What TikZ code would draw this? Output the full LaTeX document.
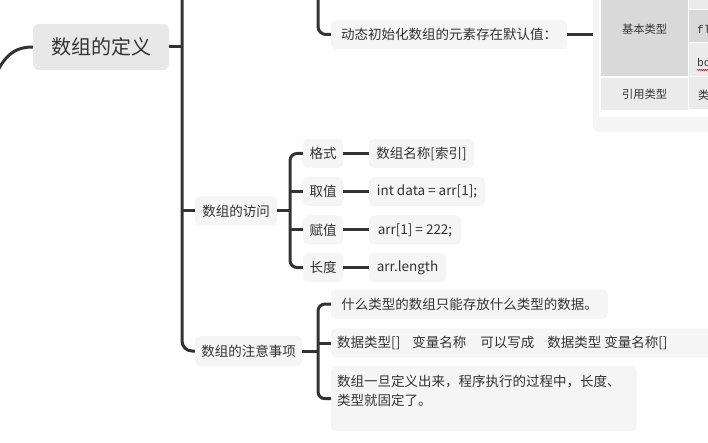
\documentclass[tikz,border=0pt]{standalone}
\usepackage{fontspec}
\setmainfont{Noto Sans CJK SC}
\newfontfamily\monof{Liberation Mono}
\usetikzlibrary{decorations.pathmorphing}
\definecolor{ln}{HTML}{333333}
\definecolor{txt}{HTML}{333333}
\definecolor{mainbg}{HTML}{E8E8E8}
\definecolor{nodebg}{HTML}{F5F5F5}
\definecolor{celld}{HTML}{D9D9D9}
\definecolor{celll}{HTML}{EBEBEB}
\begin{document}
\begin{tikzpicture}[x=1pt,y=-1pt,
  mainbox/.style={fill=mainbg, rounded corners=6pt, inner sep=0pt, text=txt, font=\fontsize{20}{24}\selectfont},
  box/.style={fill=nodebg, rounded corners=5pt, inner sep=0pt, text=txt, font=\fontsize{13.5}{16}\selectfont},
  conn/.style={draw=ln, line width=3pt},
  celltxt/.style={inner sep=0pt, text=txt, font=\fontsize{11.25}{13}\selectfont},
  monotxt/.style={inner sep=0pt, text=txt, font=\monof\fontsize{11.25}{13}\selectfont}]
\clip (0,0) rectangle (708,443);
\fill[white] (0,0) rectangle (708,443);

% coordinates
\coordinate (sTop) at (182,-5);
\coordinate (tTop) at (318,-5);
\coordinate (lc) at (-2,70);
\coordinate (bx) at (290,211);
\coordinate (nx) at (318,351);

% main node
\node[mainbox, minimum width=136pt, minimum height=46pt] (def) at (101,47) {数组的定义};

% top branch
\node[box, minimum width=236pt, minimum height=29pt] (dyn) at (449,34.5) {动态初始化数组的元素存在默认值：};

% table
\node[fill=nodebg, rounded corners=6pt, minimum width=140pt, minimum height=160pt, inner sep=0pt] (tbl) at (663,52) {};
\fill[white] (599,-30) rectangle (740,117);
\node[celltxt, fill=celld, minimum width=87pt, minimum height=94pt] (c1) at (644.5,29) {基本类型};
\node[celltxt, fill=celll, minimum width=87pt, minimum height=32pt] (c2) at (644.5,94) {引用类型};
\fill[celll] (689,-30) rectangle (740,9.3);
\fill[celld] (689,10.3) rectangle (740,42.3);
\fill[celll] (689,43.3) rectangle (740,75.7);
\fill[celll] (689,77) rectangle (740,109);
\node[monotxt, anchor=west] (c3) at (697,29) {fl};
\node[monotxt, anchor=west] (c4) at (697,62) {bo};
\node[celltxt, anchor=west] (c5) at (698,95) {类};
\draw[red, line width=0.5pt, decorate, decoration={snake, amplitude=0.6pt, segment length=2pt}] (697,70) -- (710,70);

% access
\node[box, minimum width=82pt, minimum height=29pt] (acc) at (236,211) {数组的访问};
\node[box, minimum width=40pt, minimum height=29pt] (k1) at (323,153.5) {格式};
\node[box, minimum width=40pt, minimum height=29pt] (k2) at (323,191.5) {取值};
\node[box, minimum width=40pt, minimum height=29pt] (k3) at (323,230) {赋值};
\node[box, minimum width=40pt, minimum height=29pt] (k4) at (323,267.5) {长度};
\node[box, minimum width=105pt, minimum height=29pt] (v1) at (421.5,153.5) {数组名称[索引]};
\node[box, minimum width=116pt, minimum height=29pt] (v2) at (427,191.5) {int data = arr[1];};
\node[box, minimum width=92pt, minimum height=29pt] (v3) at (415,230) {arr[1] = 222;};
\node[box, minimum width=77pt, minimum height=29pt] (v4) at (407.5,267.5) {arr.length};

% notes
\node[box, minimum width=107pt, minimum height=30pt] (ndz) at (248.5,351) {数组的注意事项};
\node[box, minimum width=277pt, minimum height=29pt] (n1) at (469.5,304) {什么类型的数组只能存放什么类型的数据。};
\node[box, anchor=west, minimum height=29pt, inner xsep=6pt, text width=388pt, align=left] (n2) at (331,343) {数据类型[]\hspace{12pt}变量名称\hspace{14pt}可以写成\hspace{13pt}数据类型\hspace{3pt}变量名称[]};
\node[box, anchor=north west, inner sep=6pt] (n3) at (331,366) {\parbox[c][53pt][t]{293.5pt}{\vspace*{3pt}\fontsize{13.5}{19}\selectfont 数组一旦定义出来，程序执行的过程中，长度、\\类型就固定了。}};

% connectors
\draw[conn] (lc) .. controls (8,52) and (18,47) .. (def.west);
\draw[conn] (def.east) -- (def.east -| sTop);
\draw[conn, rounded corners=10pt] (sTop) |- (ndz.west);
\draw[conn] (acc.west -| sTop) -- (acc.west);
\draw[conn, rounded corners=8pt] (tTop) |- (dyn.west);
\draw[conn] (dyn.east) -- (dyn.east -| tbl.west);

\draw[conn] (acc.east) -- (acc.east -| bx);
\draw[conn, rounded corners=7pt] (k1.west) -- (k1.west -| bx) -- (k4.west -| bx) -- (k4.west);
\draw[conn] (k2.west -| bx) -- (k2.west);
\draw[conn] (k3.west -| bx) -- (k3.west);
\draw[conn] (k1.east) -- (v1.west);
\draw[conn] (k2.east) -- (v2.west);
\draw[conn] (k3.east) -- (v3.west);
\draw[conn] (k4.east) -- (v4.west);

\draw[conn] (ndz.east) -- (ndz.east -| nx);
\draw[conn, rounded corners=7pt] (n1.west) -- (n1.west -| nx) -- (n3.west -| nx) -- (n3.west);
\draw[conn] (n2.west -| nx) -- (n2.west);
\end{tikzpicture}
\end{document}
